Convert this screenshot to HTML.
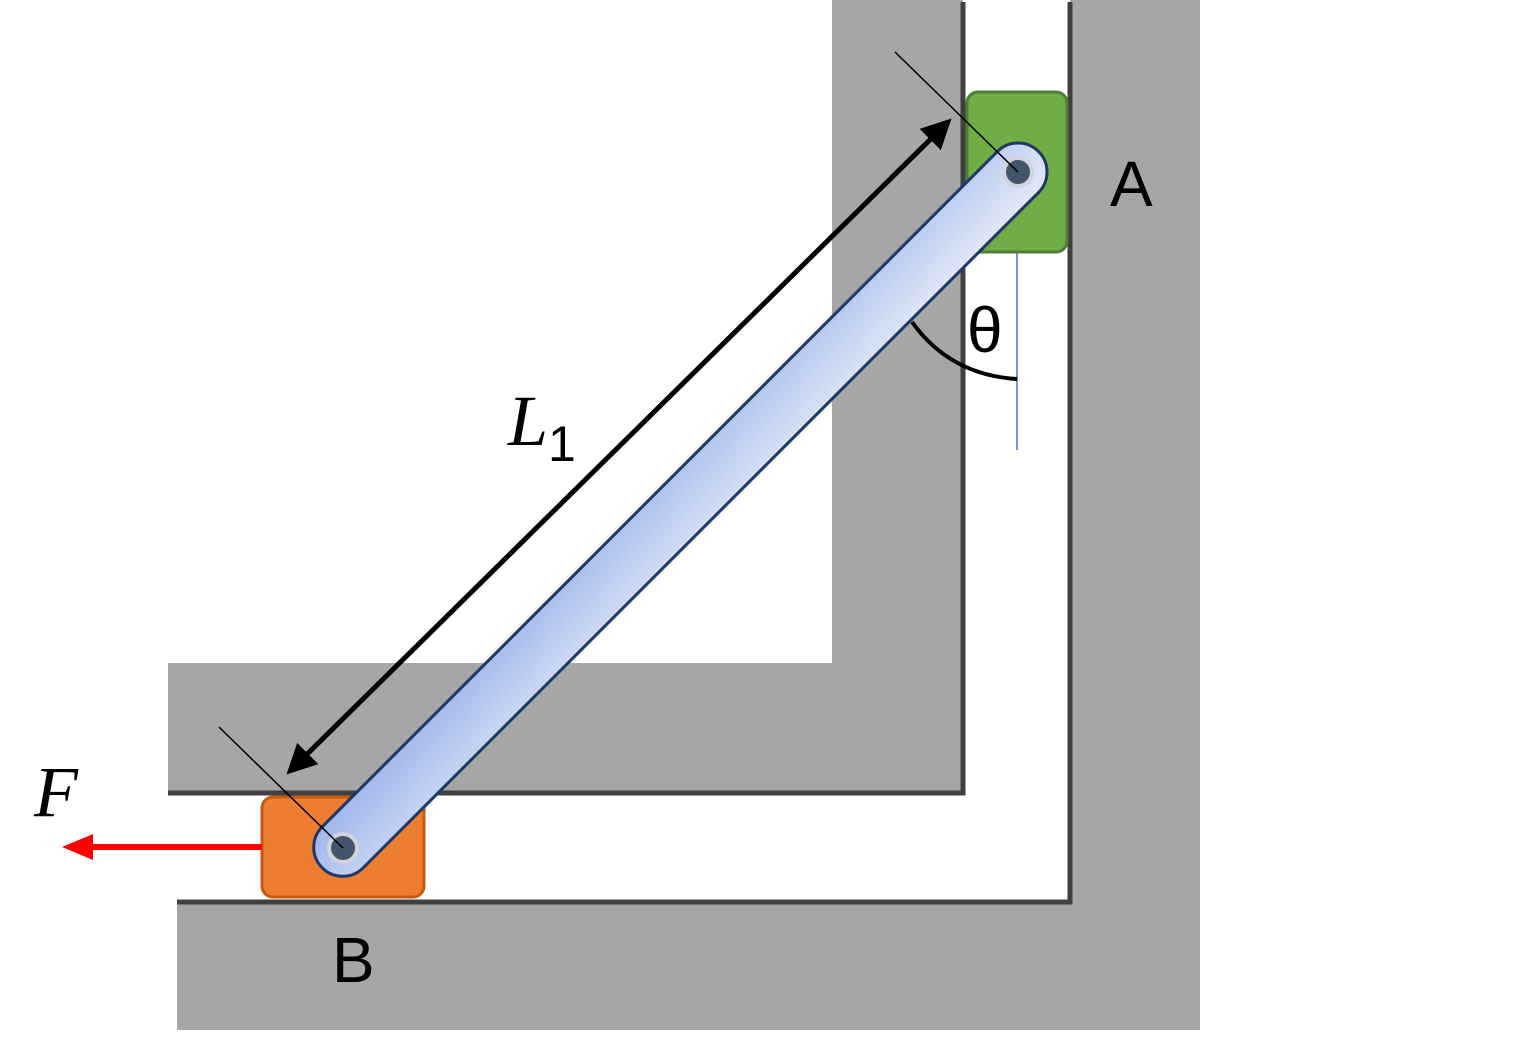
<!DOCTYPE html>
<html><head><meta charset="utf-8"><style>html,body{margin:0;padding:0;background:#fff}svg{display:block}</style></head>
<body>
<svg width="1527" height="1055" viewBox="0 0 1527 1055" xmlns="http://www.w3.org/2000/svg">
<defs>
<linearGradient id="bar" x1="0" y1="0" x2="1" y2="1">
<stop offset="0" stop-color="#e3e9f7"/><stop offset="1" stop-color="#9fb6ec"/>
</linearGradient>
<marker id="ah" markerWidth="6" markerHeight="6" refX="5" refY="3" orient="auto-start-reverse" markerUnits="strokeWidth"><path d="M0,0 L6,3 L0,6 z" fill="#000"/></marker>
</defs>
<g>
<rect x="832" y="0" width="131" height="793" fill="#a6a6a6"/>
<rect x="168" y="663" width="795" height="130" fill="#a6a6a6"/>
<path d="M963,2 L963,793 L168,793" fill="none" stroke="#404040" stroke-width="5"/>
</g>
<g>
<rect x="1070" y="0" width="130" height="1030" fill="#a6a6a6"/>
<rect x="177" y="902" width="1023" height="128" fill="#a6a6a6"/>
<path d="M1070,2 L1070,902 L177,902" fill="none" stroke="#404040" stroke-width="5"/>
</g>
<rect x="967" y="92" width="100" height="160" rx="11" fill="#70ad47" stroke="#507e32" stroke-width="3"/>
<rect x="262" y="797" width="162" height="100" rx="11" fill="#ed7d31" stroke="#c55a11" stroke-width="3"/>
<line x1="262" y1="847" x2="90" y2="847" stroke="#ff0000" stroke-width="6"/>
<polygon points="62,847 93,834 93,860" fill="#ff0000"/>
<line x1="1017" y1="252" x2="1017" y2="450" stroke="#4472c4" stroke-width="1.5"/>
<g transform="translate(1018,172) rotate(135)">
<rect x="-29" y="-29" width="1013" height="58" rx="29" fill="url(#bar)" stroke="#1f3864" stroke-width="3"/>
</g>
<g>
<circle cx="1018" cy="172" r="16" fill="#d0d4dc"/><circle cx="1018" cy="172" r="12" fill="#44546a"/>
<circle cx="343" cy="848" r="16" fill="#d0d4dc"/><circle cx="343" cy="848" r="12" fill="#44546a"/>
</g>
<line x1="895" y1="52" x2="1018" y2="172" stroke="#000" stroke-width="1.5"/>
<line x1="219" y1="727" x2="343" y2="848" stroke="#000" stroke-width="1.5"/>
<line x1="290" y1="771" x2="948" y2="122" stroke="#000" stroke-width="5" marker-start="url(#ah)" marker-end="url(#ah)"/>
<path d="M912,322 Q950,375 1017,379" fill="none" stroke="#000" stroke-width="4"/>
<text x="967" y="352" font-family="Liberation Sans, sans-serif" font-size="64">θ</text>
<text x="1110" y="206" font-family="Liberation Sans, sans-serif" font-size="64">A</text>
<text x="332" y="982" font-family="Liberation Sans, sans-serif" font-size="64">B</text>
<text x="508" y="445" font-family="Liberation Serif, serif" font-style="italic" font-size="72">L<tspan font-style="normal" font-family="Liberation Sans, sans-serif" font-size="50" dy="16">1</tspan></text>
<text x="34" y="816" font-family="Liberation Serif, serif" font-style="italic" font-size="72">F</text>
</svg>
</body></html>
